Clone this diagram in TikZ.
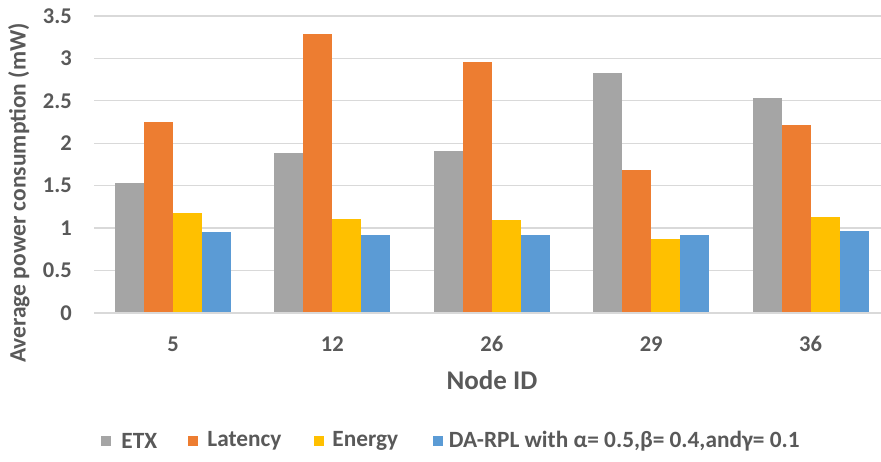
\documentclass[tikz,border=0pt]{standalone}
\usepackage{fontspec}
\setmainfont{Carlito}
\usepackage{tikz}
\usetikzlibrary{positioning}
\definecolor{etxgray}{HTML}{A5A5A5}
\definecolor{latorange}{HTML}{ED7D31}
\definecolor{enyellow}{HTML}{FFC000}
\definecolor{dablue}{HTML}{5B9BD5}
\definecolor{txtgray}{HTML}{595959}
\definecolor{gridgray}{HTML}{D9D9D9}

\begin{document}
\begin{tikzpicture}[x = 1pt, y = 1pt,
                      font = \bfseries\fontsize{22.5}{22.5}\selectfont, text = txtgray,
                      grid/.style = {draw = gridgray, line width = 1.3pt},
                      tick/.style = {anchor = east, inner sep = 0pt},
                      key/.style = {minimum size = 10pt, inner sep = 0pt},
                      keylabel/.style = {inner sep = 0pt, anchor = west,
                                         font = \bfseries\fontsize{23.3}{23.3}\selectfont}]
    \useasboundingbox (0, 0) rectangle (881, 461);

    % gridlines and bars
    \begin{scope}[shift = {(0, 148)}, y = 84.86pt]
    \draw[grid] (94, 0.5) -- (881, 0.5);
    \draw[grid] (94, 1) -- (881, 1);
    \draw[grid] (94, 1.5) -- (881, 1.5);
    \draw[grid] (94, 2) -- (881, 2);
    \draw[grid] (94, 2.5) -- (881, 2.5);
    \draw[grid] (94, 3) -- (881, 3);
    \draw[grid] (94, 3.5) -- (881, 3.5);

    \fill[etxgray] (115, 0) rectangle (144, 1.53);
    \fill[latorange] (144, 0) rectangle (173, 2.25);
    \fill[enyellow] (173, 0) rectangle (202, 1.18);
    \fill[dablue] (202, 0) rectangle (231, 0.955);

    \fill[etxgray] (274.4, 0) rectangle (303.4, 1.89);
    \fill[latorange] (303.4, 0) rectangle (332.4, 3.29);
    \fill[enyellow] (332.4, 0) rectangle (361.4, 1.11);
    \fill[dablue] (361.4, 0) rectangle (390.4, 0.92);

    \fill[etxgray] (433.8, 0) rectangle (462.8, 1.91);
    \fill[latorange] (462.8, 0) rectangle (491.8, 2.96);
    \fill[enyellow] (491.8, 0) rectangle (520.8, 1.10);
    \fill[dablue] (520.8, 0) rectangle (549.8, 0.915);

    \fill[etxgray] (593.2, 0) rectangle (622.2, 2.83);
    \fill[latorange] (622.2, 0) rectangle (651.2, 1.68);
    \fill[enyellow] (651.2, 0) rectangle (680.2, 0.875);
    \fill[dablue] (680.2, 0) rectangle (709.2, 0.915);

    \fill[etxgray] (752.6, 0) rectangle (781.6, 2.53);
    \fill[latorange] (781.6, 0) rectangle (810.6, 2.21);
    \fill[enyellow] (810.6, 0) rectangle (839.6, 1.13);
    \fill[dablue] (839.6, 0) rectangle (868.6, 0.965);

    \draw[grid] (94, 0) -- (881, 0);

    \node [tick] (t0) at (72, 0) {0};
    \node [tick] (t05) at (72, 0.5) {0.5};
    \node [tick] (t1) at (72, 1) {1};
    \node [tick] (t15) at (72, 1.5) {1.5};
    \node [tick] (t2) at (72, 2) {2};
    \node [tick] (t25) at (72, 2.5) {2.5};
    \node [tick] (t3) at (72, 3) {3};
    \node [tick] (t35) at (72, 3.5) {3.5};
    \end{scope}

    % categories and axis titles
    \node (n5) at (173, 117) {5};
    \node (n12) at (332.4, 117) {12};
    \node (n26) at (491.8, 117) {26};
    \node (n29) at (651.2, 117) {29};
    \node (n36) at (810.6, 117) {36};
    \node [font = \bfseries\fontsize{27}{27}\selectfont] (xtitle) at (492, 81) {Node ID};
    \node [rotate = 90, font = \bfseries\fontsize{23.5}{23.5}\selectfont] (ytitle) at (19, 268) {Average power consumption (mW)};

    % legend
    \node [key, fill = etxgray] (kEtx) at (106, 20){};
    \node [keylabel, right = 10pt of kEtx] (lEtx) {ETX};
    \node [key, fill = latorange] (kLat) at (193, 20){};
    \node [keylabel, right = 9pt of kLat] (lLat) {Latency};
    \node [key, fill = enyellow] (kEn) at (319, 20){};
    \node [keylabel, right = 8pt of kEn] (lEn) {Energy};
    \node [key, fill = dablue] (kDa) at (437.5, 20){};
    \node [keylabel, right = 6pt of kDa] (lDa) {DA-RPL with α= 0.5,β= 0.4,andγ= 0.1};
\end{tikzpicture}
\end{document}
